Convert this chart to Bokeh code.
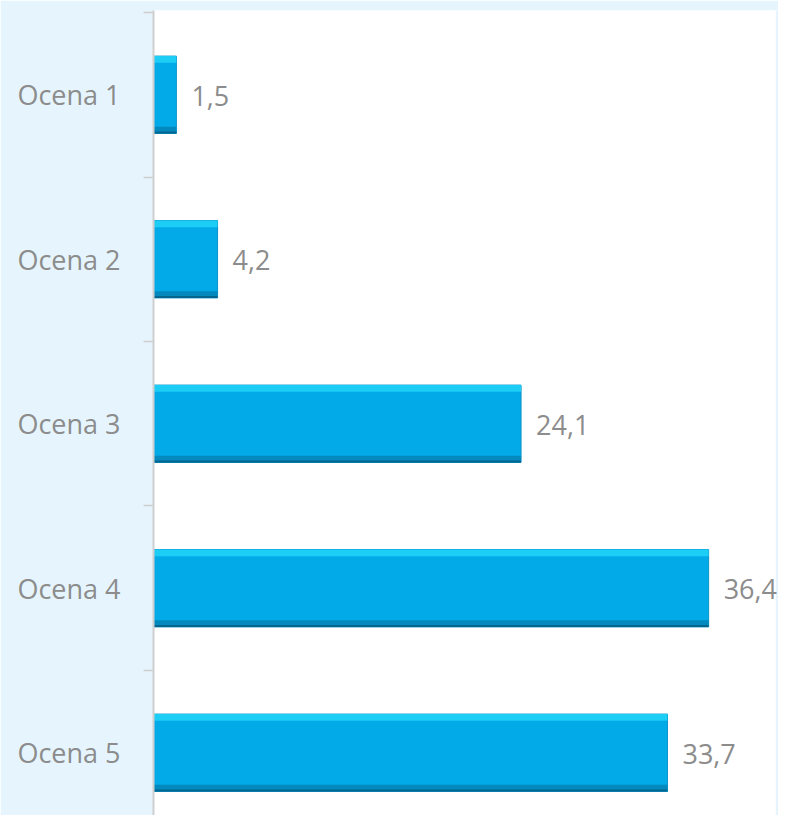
from bokeh.plotting import figure
from bokeh.models import Range1d, FixedTicker, ColumnDataSource, LabelSet, BoxAnnotation
from bokeh.core.properties import value
from bokeh.embed import file_html
from bokeh.resources import INLINE

categories = ["Ocena 1", "Ocena 2", "Ocena 3", "Ocena 4", "Ocena 5"]
values = [1.5, 4.2, 24.1, 36.4, 33.7]
value_labels = [f"{v:.1f}".replace(".", ",") for v in values]

positions = list(range(1, len(categories) + 1))
BAR_H = 0.47
STRIP = 0.04
PLOT_MAX = 40.8   # right edge of the white plot area

src = ColumnDataSource(dict(
    y=positions,
    right=values,
    lab=value_labels,
    top_strip=[p - BAR_H / 2 + STRIP / 2 for p in positions],
    bot_strip=[p + BAR_H / 2 - STRIP / 2 for p in positions],
    bot_edge=[p + BAR_H / 2 - 0.006 for p in positions],
))

FONT = "Open Sans"
GRAY = "#8c8c8c"
BG = "#e6f5fd"

p = figure(width=778, height=815, output_backend="svg", toolbar_location=None,
           x_range=Range1d(0, 40.98), y_range=Range1d(5.3815, 0.4878),
           x_axis_location=None, y_axis_location="left",
           min_border_left=153, min_border_right=0, min_border_top=10, min_border_bottom=0)

p.border_fill_color = BG
p.background_fill_color = "#ffffff"
p.outline_line_color = None
p.xgrid.visible = False
p.ygrid.visible = False

# light strip right of the white plot area
p.add_layout(BoxAnnotation(left=PLOT_MAX, fill_color=BG, fill_alpha=1.0,
                           line_color=None, level="underlay"))

# bars with a simple bevel look
p.hbar(y="y", left=0, right="right", height=BAR_H, source=src,
       fill_color="#03aae8", line_color="#0a93c9", line_width=1)
p.hbar(y="top_strip", left=0, right="right", height=STRIP, source=src,
       fill_color="#1ccdf6", line_color=None)
p.hbar(y="bot_strip", left=0, right="right", height=STRIP, source=src,
       fill_color="#0389bd", line_color=None)
p.hbar(y="bot_edge", left=0, right="right", height=0.012, source=src,
       fill_color="#04668f", line_color=None)

labels = LabelSet(x="right", y="y", text="lab", source=src, x_offset=15, y_offset=-1,
                  text_baseline="middle", text_align="left",
                  text_font=value(FONT), text_font_size="27px", text_color=GRAY)
p.add_layout(labels)

ax = p.yaxis[0]
ax.ticker = FixedTicker(ticks=positions,
                        minor_ticks=[x - 0.5 for x in positions] + [positions[-1] + 0.5])
ax.major_label_overrides = {pos: cat for pos, cat in zip(positions, categories)}
ax.major_label_text_font = FONT
ax.major_label_text_font_size = "27px"
ax.major_label_text_color = GRAY
ax.major_label_standoff = 23
ax.major_tick_out = 0
ax.major_tick_in = 0
ax.minor_tick_out = 10
ax.minor_tick_in = 0
ax.minor_tick_line_color = "#cfcfcf"
ax.minor_tick_line_width = 1.5
ax.axis_line_color = "#cfcfcf"
ax.axis_line_width = 2

open("out.html", "w").write(file_html(p, INLINE))
